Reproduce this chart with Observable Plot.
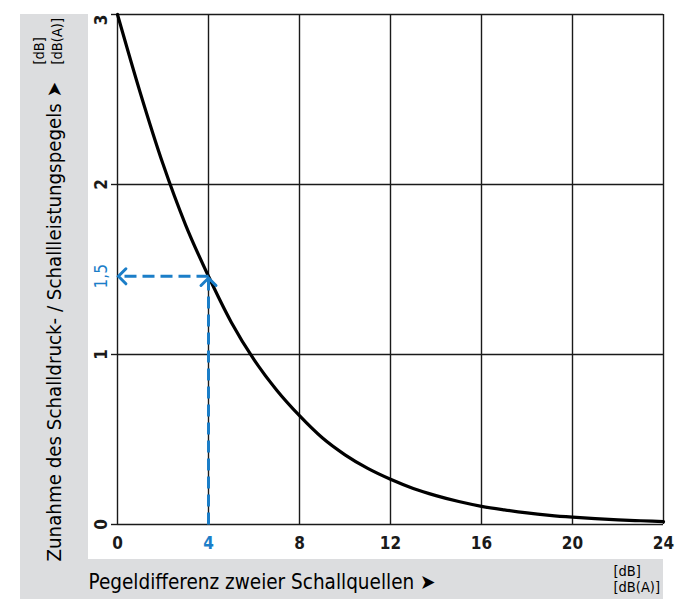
<!DOCTYPE html>
<html>
<head>
<meta charset="utf-8">
<script src="https://cdn.jsdelivr.net/npm/d3@7"></script>
<script src="https://cdn.jsdelivr.net/npm/@observablehq/plot@0.6"></script>
<style>
  html, body { margin: 0; padding: 0; background: #fff; }
  #wrap { position: relative; width: 683px; height: 599px; overflow: hidden; }
  #gray { position: absolute; left: 20px; top: 14px; width: 643px; height: 585px; background: #dcdddf; }
  #white { position: absolute; left: 88px; top: 0; width: 595px; height: 559px; background: #fff; }
  #chart { position: absolute; left: 0; top: 0; }
</style>
</head>
<body>
<div id="wrap"><div id="gray"></div><div id="white"></div><div id="chart"></div></div>
<script>
// Pegeldifferenz (dB) vs. Zunahme (dB)
const diff = [0, 1, 2, 3, 4, 5, 6, 7, 8, 9, 10, 11, 12, 13, 14, 15, 16, 17, 18, 19, 20, 21, 22, 23, 24];
const increase = [3.0, 2.54, 2.12, 1.76, 1.46, 1.19, 0.97, 0.79, 0.64, 0.51, 0.41, 0.33, 0.266, 0.212, 0.170, 0.135, 0.107, 0.086, 0.068, 0.054, 0.043, 0.034, 0.027, 0.022, 0.017];
const xTicks = [0, 4, 8, 12, 16, 20, 24];
const xTickLabels = ["0", "4", "8", "12", "16", "20", "24"];
const yTicks = [0, 1, 2, 3];
const yTickLabels = ["0", "1", "2", "3"];
const exampleX = 4;
const exampleY = 1.46;
const exampleYLabel = "1,5";
const xTitle = "Pegeldifferenz zweier Schallquellen \u27A4";
const yTitle = "Zunahme des Schalldruck- / Schallleistungspegels \u27A4";
const unitLines = ["[dB]", "[dB(A)]"];

const curve = diff.map((d, i) => ({x: d, y: increase[i]}));
const font = "'Liberation Sans Narrow', 'DejaVu Sans Condensed', 'Roboto', sans-serif";
const blue = "#1b7ec8";
const ink = "#1a1a1a";

// open chevron symbol, tip at the origin, pointing up
const chevron = {
  draw(context, size) {
    const w = Math.sqrt(size / Math.PI);
    context.moveTo(-w, w);
    context.lineTo(0, 0);
    context.lineTo(w, w);
  }
};

const plot = Plot.plot({
  width: 683,
  height: 599,
  marginLeft: 117,
  marginRight: 20,
  marginTop: 14,
  marginBottom: 75,
  x: {domain: [0, 24], axis: null},
  y: {domain: [0, 3], axis: null},
  style: {fontFamily: font, background: "transparent", overflow: "visible"},
  marks: [
    Plot.ruleX(xTicks, {y1: 0, y2: 3, stroke: ink, strokeWidth: 1.4}),
    Plot.ruleY(yTicks, {x1: 0, x2: 24, stroke: ink, strokeWidth: 1.4}),
    Plot.axisY({ticks: yTicks, tickSize: 6, tickFormat: () => "", label: null, stroke: ink, strokeWidth: 1.4, strokeOpacity: 1}),
    // y tick labels (rotated)
    Plot.text(yTicks.filter(d => d < 3), {x: 0, y: d => d, text: d => yTickLabels[yTicks.indexOf(d)], rotate: -90, dx: -16, fontSize: 17, fontWeight: "bold", fill: ink, textAnchor: "middle", lineAnchor: "middle"}),
    Plot.text(yTicks.filter(d => d === 3), {x: 0, y: d => d, text: d => yTickLabels[yTicks.indexOf(d)], rotate: -90, dx: -16, fontSize: 17, fontWeight: "bold", fill: ink, textAnchor: "end", lineAnchor: "middle"}),
    Plot.text([exampleY], {x: 0, y: d => d, text: [exampleYLabel], rotate: -90, dx: -16, fontSize: 17, fill: blue, textAnchor: "middle", lineAnchor: "middle"}),
    // x tick labels
    Plot.text(xTicks, {x: d => d, y: 0, text: d => xTickLabels[xTicks.indexOf(d)], dy: 19, fontSize: 17, fontWeight: "bold", fill: d => d === exampleX ? blue : ink, lineAnchor: "middle"}),
    // curve
    Plot.line(curve, {x: "x", y: "y", curve: "monotone-x", stroke: "#000", strokeWidth: 3.2}),
    // example dashed guides
    Plot.link([{x1: exampleX, y1: exampleY, x2: 0.05, y2: exampleY}], {x1: "x1", y1: "y1", x2: "x2", y2: "y2", stroke: blue, strokeWidth: 3, strokeDasharray: "12,6"}),
    Plot.link([{x1: exampleX, y1: 0, x2: exampleX, y2: exampleY - 0.01}], {x1: "x1", y1: "y1", x2: "x2", y2: "y2", stroke: blue, strokeWidth: 3, strokeDasharray: "12,6"}),
    Plot.dot([{x: 0.04, y: exampleY}], {x: "x", y: "y", symbol: chevron, r: 7.5, rotate: -90, fill: "none", stroke: blue, strokeWidth: 3, strokeLinecap: "round", strokeLinejoin: "miter"}),
    Plot.dot([{x: exampleX, y: exampleY - 0.01}], {x: "x", y: "y", symbol: chevron, r: 7.5, fill: "none", stroke: blue, strokeWidth: 3, strokeLinecap: "round", strokeLinejoin: "miter"}),
    // axis titles
    Plot.text([xTitle], {frameAnchor: "bottom-left", text: d => d, dx: -29, dy: 58, fontSize: 20.5, fill: "#000", textAnchor: "start", lineAnchor: "middle"}),
    Plot.text([unitLines[0]], {frameAnchor: "bottom-right", text: d => d, dx: -50, dy: 47, fontSize: 14.5, fill: "#000", textAnchor: "start", lineAnchor: "middle"}),
    Plot.text([unitLines[1]], {frameAnchor: "bottom-right", text: d => d, dx: -50, dy: 63, fontSize: 14.5, fill: "#000", textAnchor: "start", lineAnchor: "middle"}),
    Plot.text([yTitle], {frameAnchor: "bottom-left", text: d => d, rotate: -90, dx: -63, dy: 37, fontSize: 20.3, fill: "#000", textAnchor: "start", lineAnchor: "middle"}),
    Plot.text([unitLines[0]], {frameAnchor: "top-left", text: d => d, rotate: -90, dx: -78, dy: 50, fontSize: 14.5, fill: "#000", textAnchor: "start", lineAnchor: "middle"}),
    Plot.text([unitLines[1]], {frameAnchor: "top-left", text: d => d, rotate: -90, dx: -60, dy: 50, fontSize: 14.5, fill: "#000", textAnchor: "start", lineAnchor: "middle"}),
  ]
});
document.getElementById("chart").appendChild(plot);
</script>
</body>
</html>
